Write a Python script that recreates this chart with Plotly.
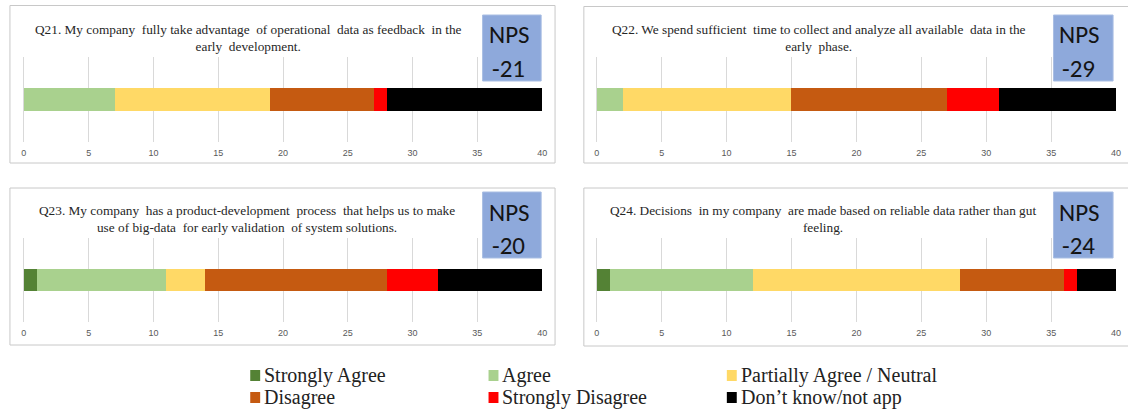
import plotly.graph_objects as go

W, H = 1128, 410

categories = ["Strongly Agree", "Agree", "Partially Agree / Neutral",
              "Disagree", "Strongly Disagree", "Don\u2019t know/not app"]
colors = ["#548235", "#A9D18E", "#FFD966", "#C55A11", "#FF0000", "#000000"]

questions = [
    "Q21. My company  fully take advantage  of operational  data as feedback  in the<br>early  development.",
    "Q22. We spend sufficient  time to collect and analyze all available  data in the<br>early  phase.",
    "Q23. My company  has a product-development  process  that helps us to make<br>use of big-data  for early validation  of system solutions.",
    "Q24. Decisions  in my company  are made based on reliable data rather than gut<br>feeling.",
]
nps = ["-21", "-29", "-20", "-24"]

q21 = [0, 7, 12, 8, 1, 12]
q22 = [0, 2, 13, 12, 4, 9]
q23 = [1, 10, 3, 14, 4, 8]
q24 = [1, 11, 16, 8, 1, 3]
values = [q21, q22, q23, q24]

tick_vals = [0, 5, 10, 15, 20, 25, 30, 35, 40]

def px_x(p):
    return p / W

def px_y(p):
    return 1 - p / H

# panel geometry (pixels)
x_domains = [(21, 543), (598, 1121), (21, 543), (598, 1121)]
y_domains = [(57, 142), (57, 142), (238, 322), (238, 322)]
boxes = [(7, 5.5, 556, 163), (585, 6.5, 1140, 163), (7, 188, 556, 345), (585, 188, 1140, 346)]
nps_boxes = [(483, 15, 542, 81), (1058, 15, 1118, 81), (483, 192, 542, 258), (1058, 192, 1118, 258)]
title_pos = [(247, 38), (822, 38), (246, 219), (826, 219)]

fig = go.Figure()
layout = dict(
    width=W, height=H,
    margin=dict(l=0, r=0, t=0, b=0),
    paper_bgcolor="white", plot_bgcolor="white",
    barmode="stack", showlegend=False,
    shapes=[], annotations=[],
)

for i in range(4):
    xa = "x" if i == 0 else f"x{i+1}"
    ya = "y" if i == 0 else f"y{i+1}"
    xk = "xaxis" if i == 0 else f"xaxis{i+1}"
    yk = "yaxis" if i == 0 else f"yaxis{i+1}"
    for c, col, v in zip(categories, colors, values[i]):
        fig.add_trace(go.Bar(
            x=[v], y=[0], orientation="h", name=c,
            marker=dict(color=col, line=dict(width=0)),
            width=0.26, xaxis=xa, yaxis=ya, showlegend=False,
        ))
    x0, x1 = x_domains[i]
    y0, y1 = y_domains[i]
    layout[xk] = dict(
        domain=[px_x(x0), px_x(x1)], anchor=ya, range=[0, 40],
        tickvals=tick_vals, showgrid=True, gridcolor="#D9D9D9", gridwidth=1,
        zeroline=True, zerolinecolor="#D9D9D9", zerolinewidth=1,
        showline=False, ticks="", ticklabelstandoff=4,
        tickfont=dict(family="Liberation Sans, Arial", size=9, color="#595959"),
    )
    layout[yk] = dict(
        domain=[px_y(y1), px_y(y0)], anchor=xa, range=[-0.5, 0.5],
        showticklabels=False, showgrid=False, zeroline=False, showline=False,
    )
    bx0, by0, bx1, by1 = boxes[i]
    layout["shapes"].append(dict(
        type="rect", xref="paper", yref="paper",
        x0=px_x(bx0), x1=px_x(bx1), y0=px_y(by1), y1=px_y(by0),
        line=dict(color="#C8C8C8", width=1), fillcolor="rgba(0,0,0,0)", layer="below",
    ))
    nx0, ny0, nx1, ny1 = nps_boxes[i]
    layout["shapes"].append(dict(
        type="rect", xref="paper", yref="paper",
        x0=px_x(nx0), x1=px_x(nx1), y0=px_y(ny1), y1=px_y(ny0),
        line=dict(color="#A9BEE3", width=1), fillcolor="#8EA9DB", layer="above",
    ))
    layout["annotations"].append(dict(
        x=px_x(nx0 + 4), y=px_y(ny0 + 20), xref="paper", yref="paper",
        xanchor="left", yanchor="middle", showarrow=False, text="NPS",
        font=dict(family="Carlito, Lato, Liberation Sans", size=25, color="#141414"),
    ))
    layout["annotations"].append(dict(
        x=px_x(nx0 + 7), y=px_y(ny0 + 53), xref="paper", yref="paper",
        xanchor="left", yanchor="middle", showarrow=False, text=nps[i],
        font=dict(family="Carlito, Lato, Liberation Sans", size=25, color="#141414"),
    ))
    tx, ty = title_pos[i]
    layout["annotations"].append(dict(
        x=px_x(tx), y=px_y(ty), xref="paper", yref="paper",
        xanchor="center", yanchor="middle", showarrow=False, text=questions[i],
        align="center",
        font=dict(family="Liberation Serif, Times New Roman", size=13.3, color="#262626"),
    ))

# manual legend: 3 columns, 2 rows
leg_x = [249, 489, 729]
leg_y = [375, 397]
for k, (c, col) in enumerate(zip(categories, colors)):
    r, cidx = divmod(k, 3)
    sx, sy = leg_x[cidx], leg_y[r]
    layout["shapes"].append(dict(
        type="rect", xref="paper", yref="paper",
        x0=px_x(sx), x1=px_x(sx + 10), y0=px_y(sy + 6), y1=px_y(sy - 5),
        line=dict(width=0), fillcolor=col,
    ))
    layout["annotations"].append(dict(
        x=px_x(sx + 12), y=px_y(sy), xref="paper", yref="paper",
        xanchor="left", yanchor="middle", showarrow=False, text=c,
        font=dict(family="Liberation Serif, Times New Roman", size=20, color="#222222"),
    ))

fig.update_layout(**layout)
fig.write_html(
    "out.html",
    config={"displayModeBar": False},
    post_script="document.body.style.margin='0';document.body.style.overflow='hidden';",
)
